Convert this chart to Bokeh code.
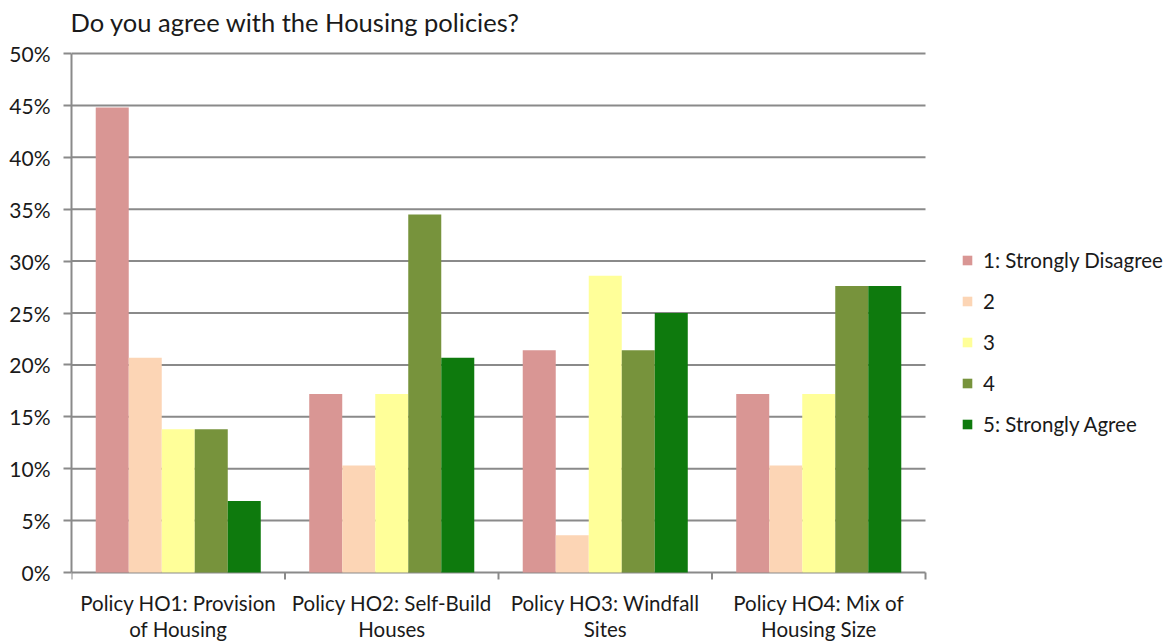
import math
from bokeh.plotting import figure
from bokeh.models import (FixedTicker, NumeralTickFormatter, Legend, LegendItem,
                          ColumnDataSource, Range1d)
from bokeh.core.properties import value
from bokeh.embed import file_html
from bokeh.resources import INLINE

# ---- data ----
title_text = "Do you agree with the Housing policies?"
categories = ["Policy HO1: Provision\nof Housing",
              "Policy HO2: Self-Build\nHouses",
              "Policy HO3: Windfall\nSites",
              "Policy HO4: Mix of\nHousing Size"]
series_names = ["1: Strongly Disagree", "2", "3", "4", "5: Strongly Agree"]
s1 = [0.448, 0.172, 0.214, 0.172]
s2 = [0.207, 0.103, 0.036, 0.103]
s3 = [0.138, 0.172, 0.286, 0.172]
s4 = [0.138, 0.345, 0.214, 0.276]
s5 = [0.069, 0.207, 0.250, 0.276]
series_values = [s1, s2, s3, s4, s5]
colors = ["#D99694", "#FCD5B5", "#FFFF99", "#77933C", "#0E7A0D"]
y_ticks = [0.0, 0.05, 0.10, 0.15, 0.20, 0.25, 0.30, 0.35, 0.40, 0.45, 0.50]

# ---- layout / style ----
FONT = "Lato"
GRID = "#8A8A8A"
TEXT = "#1A1A1A"
W, H = 1172, 644
FRAME_L = 71
PLOT_R = 925             # right end of the category area (px)
ZERO_Y, TOP_Y = 572, 53  # pixel rows of 0% and 50%

n_cat = len(categories)
n_ser = len(series_names)
bar_w = 0.1546

px_per_cat = (PLOT_R - FRAME_L) / n_cat
x_end = (W - FRAME_L) / px_per_cat
y_max = y_ticks[-1]
px_per_unit = (ZERO_Y - TOP_Y) / y_max
y_start = -(H - ZERO_Y) / px_per_unit
y_end = y_max + TOP_Y / px_per_unit

p = figure(width=W, height=H, output_backend="svg", toolbar_location=None,
           x_range=Range1d(0, x_end), y_range=Range1d(y_start, y_end),
           min_border_left=FRAME_L, min_border_right=0, min_border_top=0,
           min_border_bottom=0)
p.outline_line_color = None
p.background_fill_color = "white"
p.xaxis.visible = False
p.xgrid.visible = False
p.ygrid.visible = False

# title
p.text(x=[0], y=[y_max], text=[title_text], x_offset=-1, y_offset=-32,
       text_align="left", text_baseline="alphabetic", text_font=value(FONT),
       text_font_size="25.5px", text_color=TEXT)

# horizontal gridlines over the category area
p.segment(x0=[0] * len(y_ticks), x1=[n_cat] * len(y_ticks), y0=y_ticks, y1=y_ticks,
          line_color=GRID, line_width=2)

# category boundary tick marks below the 0% line
p.ray(x=list(range(n_cat + 1)), y=[0] * (n_cat + 1), length=7,
      length_units="screen", angle=-math.pi / 2, line_color=GRID, line_width=2)

items = []
for k in range(n_ser):
    xs = [i + 0.5 + (k - (n_ser - 1) / 2) * bar_w for i in range(n_cat)]
    src = ColumnDataSource(dict(x=xs, top=series_values[k]))
    r = p.vbar(x="x", top="top", bottom=0, width=bar_w, source=src,
               fill_color=colors[k], line_color=None)
    items.append(LegendItem(label=series_names[k], renderers=[r]))

# category labels
cat_src = ColumnDataSource(dict(x=[i + 0.5 for i in range(n_cat)],
                                y=[0] * n_cat, text=categories))
p.text(x="x", y="y", text="text", source=cat_src, y_offset=18,
       text_align="center", text_baseline="top", text_font=value(FONT),
       text_font_size="20.5px", text_color=TEXT, text_line_height=1.11)

# y axis
p.yaxis.bounds = (0, y_max)
p.yaxis.ticker = FixedTicker(ticks=y_ticks)
p.yaxis.formatter = NumeralTickFormatter(format="0%")
p.yaxis.major_tick_out = 8
p.yaxis.major_tick_in = 0
p.yaxis.minor_tick_line_color = None
p.yaxis.major_tick_line_color = GRID
p.yaxis.major_tick_line_width = 2
p.yaxis.axis_line_color = GRID
p.yaxis.axis_line_width = 2
p.yaxis.major_label_text_font = FONT
p.yaxis.major_label_text_font_size = "21px"
p.yaxis.major_label_text_color = TEXT
p.yaxis.major_label_standoff = 13

legend = Legend(items=items, location=(890, H - 436), orientation="vertical",
                glyph_width=12, glyph_height=12,
                spacing=17, padding=0, margin=0, label_standoff=10,
                label_text_font=FONT, label_text_font_size="20.5px",
                label_text_color=TEXT, border_line_color=None,
                background_fill_alpha=0)
p.add_layout(legend)

open("out.html", "w").write(file_html(p, INLINE))
